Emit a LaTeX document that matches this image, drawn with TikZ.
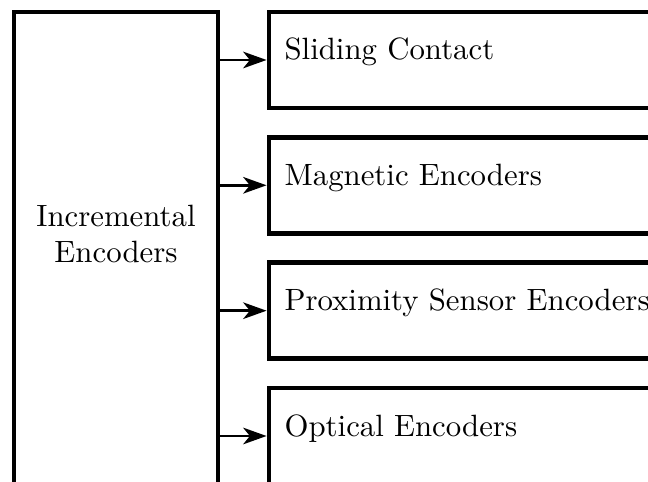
\documentclass[tikz,border=0pt]{standalone}
\usetikzlibrary{arrows.meta}
\begin{document}
\begin{tikzpicture}[x=0.3247pt,y=-0.3247pt,
  boxline/.style={draw,line width=1.6pt,inner sep=0pt},
  leftbox/.style={boxline,minimum width={204*0.3247pt},minimum height={548*0.3247pt}},
  rightbox/.style={boxline,minimum width={400*0.3247pt},minimum height={96*0.3247pt}},
  label/.style={inner sep=0pt,anchor=base west,font=\normalsize},
  arr/.style={line width=0.8pt,-{Stealth[length=7.6pt,width=5.4pt,inset=2.2pt]}}]
\useasboundingbox (0,0) rectangle (648,482);
\clip (0,0) rectangle (648,482);
\node[leftbox] (L) at (116,286) {};
\node[align=center,inner sep=0pt] (Lt) at (116,234) {Incremental\\Encoders};
\node[rightbox] (b1) at (469,60) {};
\node[rightbox] (b2) at (469,185.3) {};
\node[rightbox] (b3) at (469,310.7) {};
\node[rightbox] (b4) at (469,436) {};
\node[label] (t1) at (284,60) {Sliding Contact};
\node[label] (t2) at (284,185.3) {Magnetic Encoders};
\node[label] (t3) at (284,310.7) {Proximity Sensor Encoders};
\node[label] (t4) at (284,436) {Optical Encoders};
\draw[arr] (L.east |- b1.west) -- (b1.west);
\draw[arr] (L.east |- b2.west) -- (b2.west);
\draw[arr] (L.east |- b3.west) -- (b3.west);
\draw[arr] (L.east |- b4.west) -- (b4.west);
\end{tikzpicture}
\end{document}
